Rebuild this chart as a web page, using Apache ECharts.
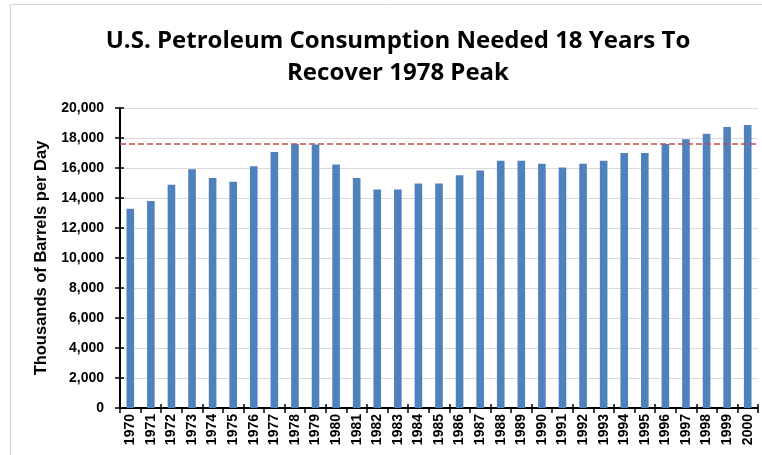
<!DOCTYPE html>
<html>
<head>
<meta charset="utf-8">
<script src="https://cdn.jsdelivr.net/npm/echarts@6/dist/echarts.min.js"></script>
<style>
  html, body { margin: 0; padding: 0; background: #fff; }
  #chart { width: 762px; height: 455px; }
</style>
</head>
<body>
<div id="chart"></div>
<script>
// U.S. petroleum consumption, thousands of barrels per day
const years = ['1970','1971','1972','1973','1974','1975','1976','1977','1978','1979',
  '1980','1981','1982','1983','1984','1985','1986','1987','1988','1989',
  '1990','1991','1992','1993','1994','1995','1996','1997','1998','1999','2000'];
const consumption = [13290, 13800, 14890, 15910, 15330, 15090, 16110, 17070, 17600, 17560,
  16240, 15330, 14560, 14560, 14960, 14960, 15510, 15840, 16490, 16490,
  16290, 16040, 16290, 16490, 17000, 17000, 17600, 17910, 18290, 18730, 18870];
const peakYear = '1978';
const peakLevel = consumption[years.indexOf(peakYear)];
const yMin = 0, yMax = 20000, yStep = 2000;

const labelFont = '"Liberation Sans", Arial, sans-serif';
const plotRect = { left: 120, right: 4, top: 108, bottom: 47, containLabel: false };
const tickStyle = { color: '#000', width: 1.5 };

const chart = echarts.init(document.getElementById('chart'));

chart.setOption({
  animation: false,
  backgroundColor: '#ffffff',
  graphic: [
    // slide frame
    { type: 'polyline', silent: true,
      shape: { points: [[10.5, 460], [10.5, 4.5], [770, 4.5]] },
      style: { stroke: '#d4d4d4', lineWidth: 1, fill: null } }
  ],
  title: {
    text: 'U.S. Petroleum Consumption Needed 18 Years To\nRecover 1978 Peak',
    left: 393, top: 20, textAlign: 'center',
    textStyle: { fontFamily: '"Open Sans", sans-serif', fontWeight: 'bold',
      fontSize: 24, lineHeight: 32, color: '#000' }
  },
  // two grids over the same rectangle: the second one carries the inner half of the ticks
  grid: [Object.assign({}, plotRect), Object.assign({}, plotRect)],
  xAxis: [{
    type: 'category', data: years, gridIndex: 0, position: 'bottom',
    axisLine: { lineStyle: { color: '#000', width: 2 } },
    axisTick: { show: true, alignWithLabel: false, length: 5, lineStyle: tickStyle },
    axisLabel: { rotate: 90, interval: 0, margin: 6, color: '#000',
      fontFamily: labelFont, fontWeight: 'bold', fontSize: 14 }
  }, {
    type: 'category', data: years, gridIndex: 1, position: 'bottom',
    axisLine: { show: false },
    axisTick: { show: true, inside: true, length: 4, lineStyle: tickStyle },
    axisLabel: { show: false }
  }],
  yAxis: [{
    type: 'value', min: yMin, max: yMax, interval: yStep, gridIndex: 0, position: 'left',
    name: 'Thousands of Barrels per Day', nameLocation: 'middle', nameGap: 70, nameRotate: 90,
    nameTextStyle: { fontFamily: labelFont, fontWeight: 'bold', fontSize: 16.5, color: '#000' },
    axisLine: { show: true, lineStyle: { color: '#000', width: 2 } },
    axisTick: { show: true, length: 5, lineStyle: tickStyle },
    axisLabel: { color: '#000', fontFamily: labelFont, fontWeight: 'bold', fontSize: 14, margin: 16 },
    splitLine: { show: true, lineStyle: { color: '#d9d9d9', width: 1 } }
  }, {
    type: 'value', min: yMin, max: yMax, interval: yStep, gridIndex: 1, position: 'left',
    axisLine: { show: false },
    axisTick: { show: true, inside: true, length: 4, lineStyle: tickStyle },
    axisLabel: { show: false },
    splitLine: { show: false }
  }],
  series: [{
    type: 'bar', xAxisIndex: 0, yAxisIndex: 0,
    data: consumption,
    barCategoryGap: '63%',
    itemStyle: { color: '#4f81bd' },
    markLine: {
      silent: true, symbol: 'none',
      label: { show: false },
      lineStyle: { color: '#c0504d', type: [6, 3], width: 1.5 },
      data: [{ yAxis: peakLevel }]
    }
  }]
});
</script>
</body>
</html>
